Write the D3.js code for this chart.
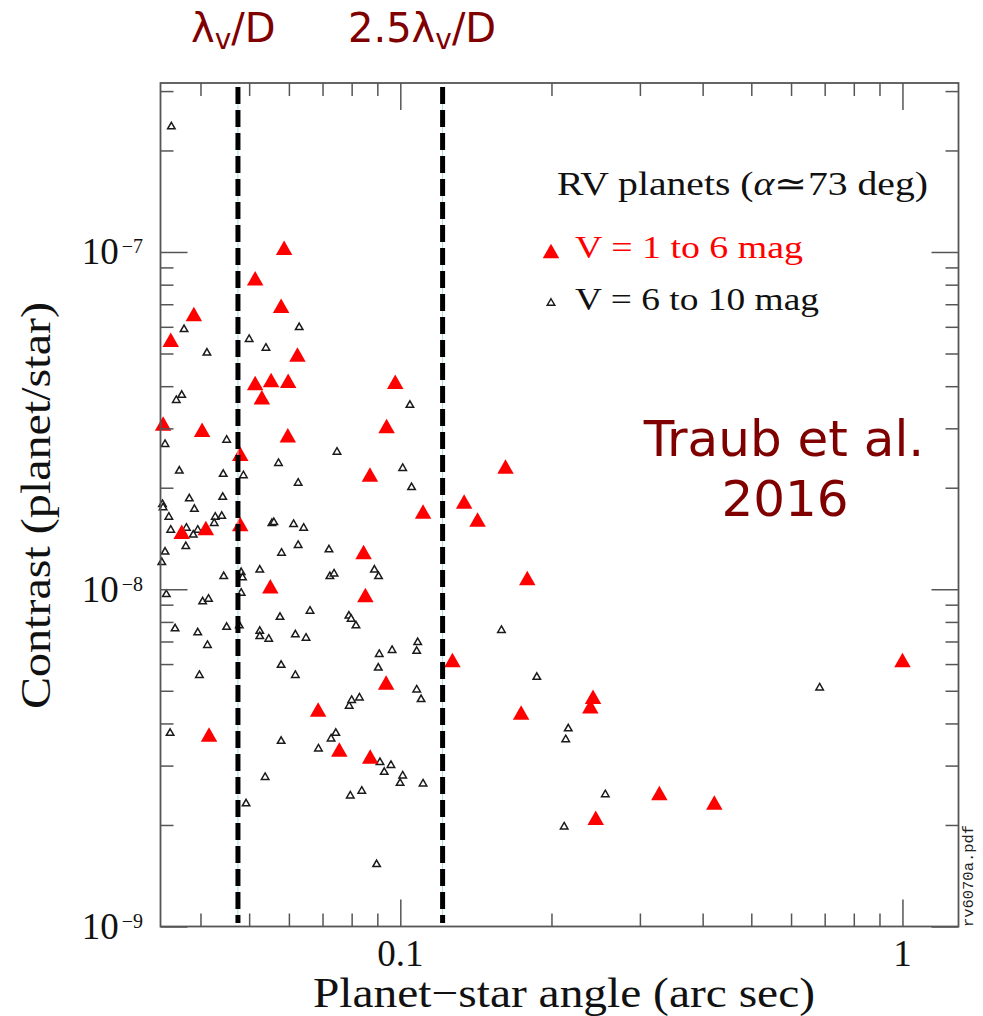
<!DOCTYPE html>
<html><head><meta charset="utf-8">
<script src="https://cdn.jsdelivr.net/npm/d3@7"></script>
<style>body{margin:0;background:#fff;} svg{display:block;}</style>
</head><body><svg id="c" width="983" height="1016"></svg>
<script>
// ---- Data (angle in arcsec, contrast planet/star) ----
const redAngle = [0.0349,0.0388,0.0337,0.0403,0.0367,0.0410,0.0416,0.0480,0.0480,0.0514,
  0.0530,0.0514,0.0553,0.0598,0.0579,0.0587,0.0597,0.0624,0.0551,0.0686,
  0.0756,0.0845,0.0852,0.0871,0.0870,0.0939,0.0977,0.0937,0.111,0.127,
  0.134,0.1425,0.162,0.179,0.174,0.239,0.242,0.245,0.328,0.422,1.00];
const redContrast = [5.49e-8,6.55e-8,3.10e-8,2.97e-8,1.48e-8,1.52e-8,3.71e-9,2.52e-8,1.56e-8,8.36e-8,
  3.71e-8,4.09e-8,4.17e-8,4.15e-8,6.93e-8,1.03e-7,2.86e-8,4.97e-8,1.02e-8,4.40e-9,
  3.35e-9,1.29e-8,9.62e-9,3.19e-9,2.19e-8,3.05e-8,4.12e-8,5.29e-9,1.70e-8,6.17e-9,
  1.82e-8,1.61e-8,2.31e-8,1.08e-8,4.31e-9,4.50e-9,4.80e-9,2.10e-9,2.49e-9,2.33e-9,6.17e-9];
const blackAngle = [0.0350,0.0371,0.0500,0.0540,0.0629,0.0412,0.0367,0.0358,0.1045,0.0340,
  0.0451,0.0748,0.0572,0.0363,0.0444,0.0487,0.1011,0.0626,0.1053,0.0380,
  0.0443,0.0336,0.0337,0.0389,0.0346,0.0428,0.0441,0.0426,0.0555,0.0560,
  0.0613,0.0642,0.0349,0.0375,0.0395,0.0387,0.0374,0.0626,0.0721,0.0340,
  0.0580,0.0335,0.0525,0.0482,0.0485,0.0445,0.0724,0.0738,0.0888,0.0905,
  0.0342,0.0482,0.0404,0.0415,0.0661,0.0576,0.0790,0.0798,0.0816,0.0356,
  0.0395,0.0451,0.0478,0.0525,0.0525,0.0547,0.0618,0.0649,0.0413,0.1083,
  0.1078,0.0963,0.0908,0.0579,0.0904,0.0398,0.0618,0.1078,0.110,0.0791,
  0.0800,0.0829,0.0348,0.0579,0.0744,0.0728,0.0687,0.0911,0.0958,0.0929,
  0.1011,0.0999,0.111,0.0538,0.0795,0.0838,0.0493,0.0897,0.159,0.187,
  0.216,0.2135,0.256,0.212,0.684];
const blackContrast = [2.37e-7,5.94e-8,5.55e-8,5.23e-8,6.02e-8,5.06e-8,3.79e-8,3.66e-8,3.54e-8,2.71e-8,
  2.79e-8,2.57e-8,2.38e-8,2.26e-8,2.21e-8,2.19e-8,2.30e-8,2.08e-8,2.02e-8,1.87e-8,
  1.89e-8,1.80e-8,1.76e-8,1.74e-8,1.65e-8,1.65e-8,1.66e-8,1.58e-8,1.58e-8,1.59e-8,
  1.57e-8,1.53e-8,1.51e-8,1.53e-8,1.51e-8,1.46e-8,1.35e-8,1.36e-8,1.32e-8,1.30e-8,
  1.29e-8,1.21e-8,1.15e-8,1.13e-8,1.09e-8,1.10e-8,1.10e-8,1.12e-8,1.15e-8,1.10e-8,
  9.73e-9,9.82e-9,9.26e-9,9.42e-9,8.68e-9,8.33e-9,8.40e-9,8.22e-9,7.86e-9,7.70e-9,
  7.49e-9,7.78e-9,7.86e-9,7.57e-9,7.30e-9,7.17e-9,7.39e-9,7.22e-9,6.87e-9,7.01e-9,
  6.60e-9,6.64e-9,6.46e-9,6.00e-9,5.89e-9,5.60e-9,5.60e-9,5.07e-9,4.75e-9,4.54e-9,
  4.72e-9,4.80e-9,3.77e-9,3.57e-9,3.77e-9,3.63e-9,3.39e-9,3.09e-9,3.03e-9,2.89e-9,
  2.82e-9,2.68e-9,2.67e-9,2.79e-9,2.46e-9,2.54e-9,2.33e-9,1.54e-9,7.61e-9,5.53e-9,
  3.89e-9,3.61e-9,2.48e-9,1.99e-9,5.14e-9];

const xMajorTicks = [0.1, 1];
const xTickLabels = ["0.1", "1"];
const xMinorTicks = [0.04,0.05,0.06,0.07,0.08,0.09,0.2,0.3,0.4,0.5,0.6,0.7,0.8,0.9];
const yMajorTicks = [1e-9, 1e-8, 1e-7];
const yTickExponents = ["\u22129", "\u22128", "\u22127"];
const yMinorTicks = [2e-9,3e-9,4e-9,5e-9,6e-9,7e-9,8e-9,9e-9,
  2e-8,3e-8,4e-8,5e-8,6e-8,7e-8,8e-8,9e-8,2e-7,3e-7];
const resolutionLines = [0.0475, 0.1214];
const resolutionPrefix = ["\u03bb", "2.5\u03bb"];

// ---- Layout ----
const L = 160.5, R = 958.5, T = 83, B = 926.5;
const svg = d3.select("#c");
const x = d3.scaleLog().domain([0.0333, 1.293]).range([L, R]);
const y = d3.scaleLog().domain([1e-9, 3.17e-7]).range([B, T]);
const axisColor = "#555";

function tri(w, h) {
  return `M0,${-h/2}L${w/2},${h/2}L${-w/2},${h/2}Z`;
}

// ---- Points ----
const blackPts = blackAngle.map((a, i) => ({a, c: blackContrast[i]}));
const redPts = redAngle.map((a, i) => ({a, c: redContrast[i]}));

svg.append("g").selectAll("path").data(blackPts).join("path")
  .attr("d", tri(7.5, 6.5))
  .attr("transform", d => `translate(${x(d.a)},${y(d.c)})`)
  .attr("fill", "#fff").attr("stroke", "#1a1a1a").attr("stroke-width", 1.5)
  .attr("stroke-linejoin", "miter");

svg.append("g").selectAll("path").data(redPts).join("path")
  .attr("d", tri(16.5, 14.5))
  .attr("transform", d => `translate(${x(d.a)},${y(d.c)})`)
  .attr("fill", "#ff0000");

// ---- Dashed resolution lines ----
const rl = svg.append("g");
rl.selectAll("line.thin").data(resolutionLines).join("line").attr("class","thin")
  .attr("x1", d => x(d)).attr("x2", d => x(d)).attr("y1", 87).attr("y2", 923)
  .attr("stroke", "#a8dbe4").attr("stroke-width", 1);
rl.selectAll("line.dash").data(resolutionLines).join("line").attr("class","dash")
  .attr("x1", d => x(d)).attr("x2", d => x(d)).attr("y1", 87).attr("y2", 923)
  .attr("stroke", "#000").attr("stroke-width", 5).attr("stroke-dasharray", "17,6");

// ---- Axes (ticks inward on all sides) ----
function styleAxis(g) {
  g.select(".domain").remove();
  g.selectAll(".tick line").attr("stroke", axisColor).attr("stroke-width", 1.5);
  g.selectAll(".tick text").remove();
}
const ax = svg.append("g");
ax.append("g").attr("transform", `translate(0,${B})`)
  .call(d3.axisBottom(x).tickValues(xMinorTicks).tickSize(-13).tickFormat("")).call(styleAxis);
ax.append("g").attr("transform", `translate(0,${B})`)
  .call(d3.axisBottom(x).tickValues(xMajorTicks).tickSize(-27).tickFormat("")).call(styleAxis);
ax.append("g").attr("transform", `translate(0,${T})`)
  .call(d3.axisTop(x).tickValues(xMinorTicks).tickSize(-13).tickFormat("")).call(styleAxis);
ax.append("g").attr("transform", `translate(0,${T})`)
  .call(d3.axisTop(x).tickValues(xMajorTicks).tickSize(-27).tickFormat("")).call(styleAxis);
ax.append("g").attr("transform", `translate(${L},0)`)
  .call(d3.axisLeft(y).tickValues(yMinorTicks).tickSize(-13).tickFormat("")).call(styleAxis);
ax.append("g").attr("transform", `translate(${L},0)`)
  .call(d3.axisLeft(y).tickValues(yMajorTicks).tickSize(-27).tickFormat("")).call(styleAxis);
ax.append("g").attr("transform", `translate(${R},0)`)
  .call(d3.axisRight(y).tickValues(yMinorTicks).tickSize(-13).tickFormat("")).call(styleAxis);
ax.append("g").attr("transform", `translate(${R},0)`)
  .call(d3.axisRight(y).tickValues(yMajorTicks).tickSize(-27).tickFormat("")).call(styleAxis);

svg.append("rect").attr("x", L).attr("y", T).attr("width", R - L).attr("height", B - T)
  .attr("fill", "none").attr("stroke", axisColor).attr("stroke-width", 1.8);

const serif = "'Liberation Serif', 'Times New Roman', serif";

// x tick labels
svg.append("g").selectAll("text").data(xMajorTicks).join("text")
  .attr("x", d => x(d)).attr("y", 966)
  .attr("text-anchor", "middle").attr("font-family", serif).attr("font-size", 37)
  .attr("fill", "#111").text((d, i) => xTickLabels[i]);

// y tick labels
const yl = svg.append("g").selectAll("text").data(yMajorTicks).join("text")
  .attr("x", 143).attr("y", d => y(d) + 12.5)
  .attr("text-anchor", "end").attr("font-family", serif).attr("fill", "#111");
yl.append("tspan").attr("font-size", 37).text("10");
yl.append("tspan").attr("font-size", 20).attr("dx", 3).attr("dy", -11)
  .text((d, i) => yTickExponents[i]);

// axis titles
svg.append("text").attr("x", 564).attr("y", 1007).attr("text-anchor", "middle")
  .attr("font-family", serif).attr("font-size", 42).attr("fill", "#111")
  .attr("textLength", 502).attr("lengthAdjust", "spacingAndGlyphs")
  .text("Planet\u2212star angle (arc sec)");
svg.append("text").attr("transform", "translate(50,505.5) rotate(-90)")
  .attr("text-anchor", "middle").attr("font-family", serif).attr("font-size", 42).attr("fill", "#111")
  .attr("textLength", 407).attr("lengthAdjust", "spacingAndGlyphs")
  .text("Contrast (planet/star)");

// ---- Legend ----
const lg = svg.append("text").attr("x", 557).attr("y", 195)
  .attr("font-family", serif).attr("font-size", 33).attr("fill", "#111")
  .attr("textLength", 371).attr("lengthAdjust", "spacingAndGlyphs");
lg.append("tspan").text("RV planets (");
lg.append("tspan").attr("font-style", "italic").text("\u03b1");
lg.append("tspan").text("\u224373 deg)");

svg.append("path").attr("d", tri(16.5, 14.5)).attr("transform", "translate(551,251)")
  .attr("fill", "#ff0000");
svg.append("text").attr("x", 575).attr("y", 258)
  .attr("font-family", serif).attr("font-size", 31).attr("fill", "#ff0000")
  .attr("textLength", 228).attr("lengthAdjust", "spacingAndGlyphs")
  .text("V = 1 to 6 mag");
svg.append("path").attr("d", tri(7.5, 6.5)).attr("transform", "translate(551,302)")
  .attr("fill", "#fff").attr("stroke", "#1a1a1a").attr("stroke-width", 1.5);
svg.append("text").attr("x", 575).attr("y", 310)
  .attr("font-family", serif).attr("font-size", 31).attr("fill", "#111")
  .attr("textLength", 244).attr("lengthAdjust", "spacingAndGlyphs")
  .text("V = 6 to 10 mag");

// ---- Annotations ----
const sans = "'DejaVu Sans', Verdana, sans-serif";
const maroon = "#800000";
const topX = [191, 348];
const tl = svg.append("g").selectAll("text").data(resolutionPrefix).join("text")
  .attr("x", (d, i) => topX[i]).attr("y", 42)
  .attr("font-family", sans).attr("font-size", 40).attr("fill", maroon);
tl.append("tspan").text(d => d);
tl.append("tspan").attr("font-size", 28).attr("dy", 7).text("v");
tl.append("tspan").attr("dy", -7).text("/D");

svg.append("text").attr("x", 784).attr("y", 456).attr("text-anchor", "middle")
  .attr("font-family", sans).attr("font-size", 50).attr("fill", maroon).text("Traub et al.");
svg.append("text").attr("x", 785).attr("y", 516).attr("text-anchor", "middle")
  .attr("font-family", sans).attr("font-size", 50).attr("fill", maroon).text("2016");

svg.append("text").attr("transform", "translate(973,927) rotate(-90)")
  .attr("font-family", "'Liberation Mono', 'DejaVu Sans Mono', monospace").attr("font-size", 15)
  .attr("fill", "#222").attr("textLength", 102).attr("lengthAdjust", "spacingAndGlyphs")
  .text("rv6070a.pdf");
</script></body></html>
